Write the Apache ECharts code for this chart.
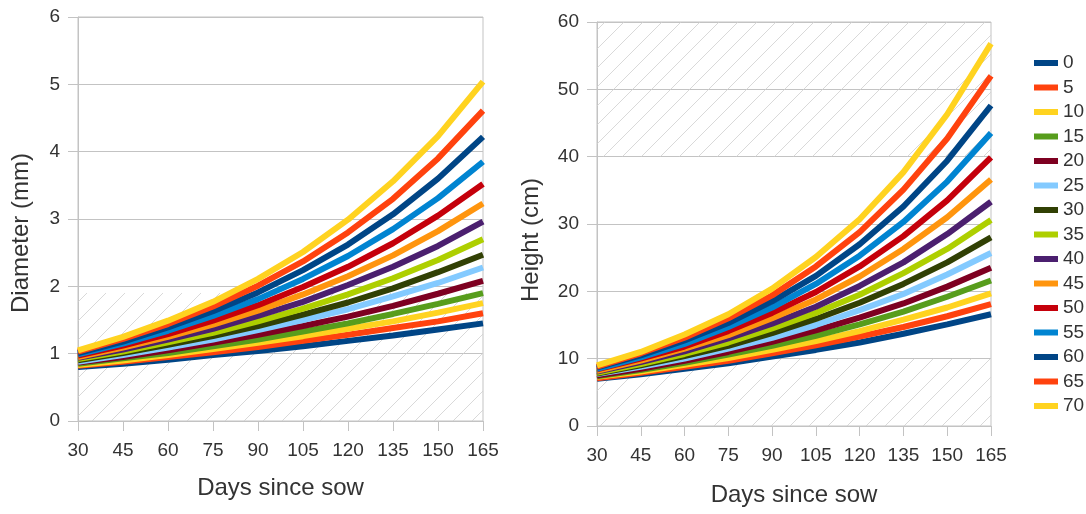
<!DOCTYPE html>
<html>
<head>
<meta charset="utf-8">
<script src="https://cdn.jsdelivr.net/npm/echarts@6/dist/echarts.min.js"></script>
<style>
html,body{margin:0;padding:0;background:#fff;}
#c{width:1086px;height:514px;}
</style>
</head>
<body>
<div id="c"></div>
<script>
const days = ['30','45','60','75','90','105','120','135','150','165'];
const seriesNames = ['0','5','10','15','20','25','30','35','40','45','50','55','60','65','70'];
const colors = ['#004586','#ff420e','#ffd320','#579d1c','#7e0021','#83caff','#314004','#aecf00','#4b1f6f','#ff950e','#c5000b','#0084d1','#004586','#ff420e','#ffd320'];

const diam0  = [0.80,0.85,0.91,0.98,1.04,1.11,1.19,1.27,1.36,1.45];
const diam5  = [0.82,0.88,0.95,1.02,1.10,1.19,1.28,1.38,1.48,1.60];
const diam10 = [0.83,0.90,0.98,1.07,1.16,1.26,1.37,1.48,1.61,1.75];
const diam15 = [0.85,0.93,1.01,1.11,1.21,1.33,1.45,1.59,1.74,1.90];
const diam20 = [0.87,0.95,1.05,1.16,1.28,1.41,1.55,1.71,1.89,2.08];
const diam25 = [0.88,0.98,1.09,1.21,1.35,1.50,1.66,1.85,2.05,2.28];
const diam30 = [0.90,1.01,1.13,1.26,1.41,1.58,1.76,1.97,2.21,2.47];
const diam35 = [0.92,1.03,1.17,1.31,1.48,1.67,1.88,2.12,2.39,2.70];
const diam40 = [0.94,1.06,1.21,1.37,1.56,1.77,2.02,2.29,2.60,2.96];
const diam45 = [0.95,1.09,1.25,1.43,1.64,1.88,2.15,2.46,2.82,3.23];
const diam50 = [0.97,1.12,1.29,1.49,1.72,1.99,2.29,2.64,3.05,3.52];
const diam55 = [0.99,1.15,1.34,1.56,1.81,2.11,2.45,2.85,3.31,3.85];
const diam60 = [1.01,1.18,1.39,1.63,1.91,2.24,2.62,3.07,3.60,4.22];
const diam65 = [1.03,1.22,1.44,1.70,2.01,2.37,2.80,3.30,3.90,4.61];
const diam70 = [1.05,1.25,1.49,1.77,2.11,2.51,2.99,3.56,4.23,5.04];

const height0  = [7.0,7.7,8.5,9.3,10.3,11.3,12.4,13.7,15.1,16.6];
const height5  = [7.1,7.9,8.8,9.7,10.8,12.0,13.3,14.7,16.3,18.1];
const height10 = [7.3,8.1,9.1,10.1,11.3,12.6,14.1,15.8,17.6,19.7];
const height15 = [7.4,8.3,9.4,10.6,11.9,13.4,15.1,17.0,19.2,21.6];
const height20 = [7.5,8.5,9.7,11.0,12.5,14.2,16.1,18.2,20.7,23.5];
const height25 = [7.7,8.8,10.0,11.5,13.1,15.0,17.2,19.6,22.5,25.7];
const height30 = [7.8,9.0,10.4,11.9,13.8,15.9,18.3,21.1,24.3,28.0];
const height35 = [7.9,9.2,10.7,12.4,14.5,16.8,19.5,22.7,26.3,30.6];
const height40 = [8.1,9.5,11.1,13.0,15.2,17.7,20.8,24.3,28.5,33.3];
const height45 = [8.2,9.7,11.5,13.5,16.0,18.8,22.2,26.3,31.0,36.6];
const height50 = [8.4,10.0,11.8,14.1,16.8,19.9,23.7,28.2,33.5,39.9];
const height55 = [8.5,10.2,12.2,14.7,17.6,21.1,25.3,30.3,36.3,43.5];
const height60 = [8.7,10.5,12.7,15.3,18.5,22.3,27.0,32.6,39.4,47.6];
const height65 = [8.8,10.8,13.1,16.0,19.4,23.7,28.8,35.1,42.7,52.0];
const height70 = [9.0,11.0,13.6,16.6,20.4,25.1,30.7,37.7,46.3,56.8];

const diamTicks = [0,1,2,3,4,5,6];
const heightTicks = [0,10,20,30,40,50,60];
const hatchDiam = [[0,1.9]];
const hatchHeight = [[0,10],[40,60]];

const diamSeries = [diam0,diam5,diam10,diam15,diam20,diam25,diam30,diam35,diam40,diam45,diam50,diam55,diam60,diam65,diam70];
const heightSeries = [height0,height5,height10,height15,height20,height25,height30,height35,height40,height45,height50,height55,height60,height65,height70];

// hatch pattern
const pc = document.createElement('canvas');
pc.width = 19; pc.height = 19;
const g = pc.getContext('2d');
g.strokeStyle = '#cfcfcf';
g.lineWidth = 0.8;
g.beginPath();
g.moveTo(-1,20); g.lineTo(20,-1);
g.stroke();
const hatch = {image: pc, repeat: 'repeat'};

const FONT = 'Liberation Sans, Arial, sans-serif';
const TXT = '#333333';
const GRID = '#c3c3c3';

function xAxis(gi, gap){
  return {
    type:'category', gridIndex:gi, data:days, boundaryGap:false,
    axisLine:{lineStyle:{color:GRID}},
    axisTick:{show:true, length:10, lineStyle:{color:GRID}},
    axisLabel:{color:TXT, fontSize:19, fontFamily:FONT, margin:20},
    splitLine:{show:false},
    name:'Days since sow', nameLocation:'middle', nameGap:gap,
    nameTextStyle:{color:TXT, fontSize:24, fontFamily:FONT}
  };
}
function yAxis(gi, max, interval, name, gap, shift){
  return {
    type:'value', gridIndex:gi, min:0, max:max, interval:interval,
    axisLine:{show:true, lineStyle:{color:GRID}},
    axisTick:{show:true, length:10, lineStyle:{color:GRID}},
    axisLabel:{color:TXT, fontSize:19, fontFamily:FONT, margin:18},
    splitLine:{show:true, lineStyle:{color:GRID, width:1}},
    name:name, nameLocation:'middle', nameGap:gap,
    nameTextStyle:{color:TXT, fontSize:24, fontFamily:FONT, padding:[0,shift,0,0]}
  };
}

const series = [];
seriesNames.forEach((n,i)=>{
  series.push({
    type:'line', name:n, xAxisIndex:0, yAxisIndex:0, data:diamSeries[i],
    showSymbol:false, symbol:'none', color:colors[i],
    lineStyle:{width:6, color:colors[i]}, animation:false,
    markArea: i===0 ? {silent:true, itemStyle:{color:hatch}, data: hatchDiam.map(r=>[{yAxis:r[0]},{yAxis:r[1]}])} : undefined
  });
});
seriesNames.forEach((n,i)=>{
  series.push({
    type:'line', name:n, xAxisIndex:1, yAxisIndex:1, data:heightSeries[i],
    showSymbol:false, symbol:'none', color:colors[i],
    lineStyle:{width:6, color:colors[i]}, animation:false,
    markArea: i===0 ? {silent:true, itemStyle:{color:hatch}, data: hatchHeight.map(r=>[{yAxis:r[0]},{yAxis:r[1]}])} : undefined
  });
});

const chart = echarts.init(document.getElementById('c'));
chart.setOption({
  animation:false,
  backgroundColor:'#ffffff',
  grid:[
    {left:78, top:17, width:405, height:404, show:true, borderColor:GRID, borderWidth:1, containLabel:false},
    {left:597, top:22, width:394, height:404, show:true, borderColor:GRID, borderWidth:1, containLabel:false}
  ],
  xAxis:[xAxis(0,55), xAxis(1,57)],
  yAxis:[yAxis(0,6,1,'Diameter (mm)',45,28), yAxis(1,60,10,'Height (cm)',54,32)],
  legend:{
    orient:'vertical', left:1029, top:48,
    icon:'rect', itemWidth:24, itemHeight:6, itemGap:4.5,
    data:seriesNames,
    textStyle:{color:TXT, fontSize:19, fontFamily:FONT, lineHeight:20, padding:[0,0,0,0]},
    selectedMode:false
  },
  series:series
});
</script>
</body>
</html>
